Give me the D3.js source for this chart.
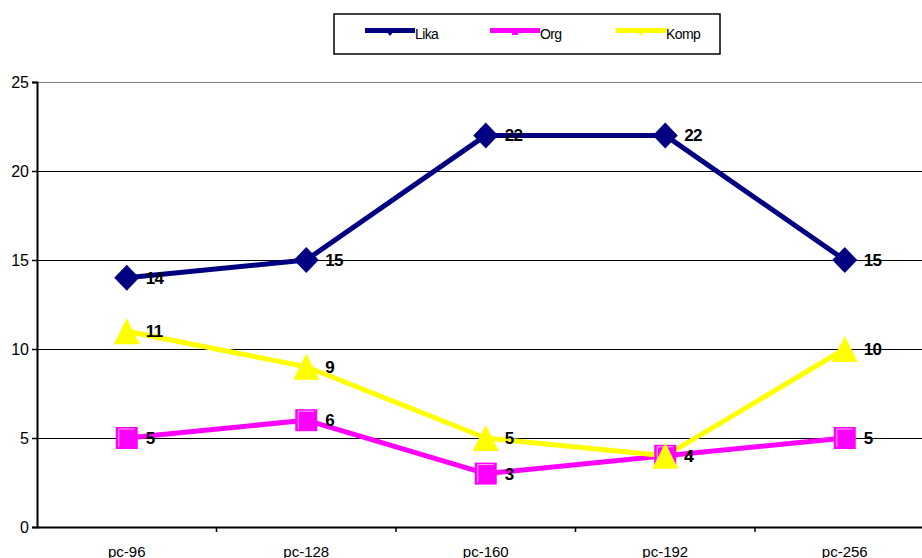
<!DOCTYPE html>
<html>
<head>
<meta charset="utf-8">
<script src="https://cdn.jsdelivr.net/npm/d3@7"></script>
<style>
  html, body { margin: 0; padding: 0; background: #fff; overflow: hidden; }
  svg { display: block; }
</style>
</head>
<body>
<svg id="chart" width="922" height="558"></svg>
<script>
// Categories and series values
const categories = ["pc-96", "pc-128", "pc-160", "pc-192", "pc-256"];
const lika = [14, 15, 22, 22, 15];
const org = [5, 6, 3, 4, 5];
const komp = [11, 9, 5, 4, 10];
const yTicks = [0, 5, 10, 15, 20, 25];

const series = [
  { name: "Lika", values: lika, color: "#000080", marker: "diamond" },
  { name: "Org", values: org, color: "#FF00FF", marker: "square" },
  { name: "Komp", values: komp, color: "#FFFF00", marker: "triangle" }
];

const FONT = "Arial, 'Liberation Sans', sans-serif";
const svg = d3.select("#chart");
const plotLeft = 37, plotTop = 82, plotBottom = 527;
const band = 179.5;
const plotRight = plotLeft + band * categories.length;

const x = d3.scaleBand().domain(categories).range([plotLeft, plotRight]).padding(0);
const y = d3.scaleLinear().domain([0, 25]).range([plotBottom, plotTop]);
const cx = d => x(d) + x.bandwidth() / 2;

// Horizontal gridlines
svg.append("g").selectAll("line").data(yTicks.filter(t => t > 0)).join("line")
  .attr("x1", plotLeft).attr("x2", plotRight)
  .attr("y1", d => y(d)).attr("y2", d => y(d))
  .attr("stroke", d => d === 25 ? "#808080" : "#000")
  .attr("stroke-width", 1)
  .attr("shape-rendering", "crispEdges");

// Y axis
const yAxis = svg.append("g").attr("transform", `translate(${plotLeft},0)`)
  .call(d3.axisLeft(y).tickValues(yTicks).tickSize(5).tickPadding(3).tickFormat(d3.format("d")));
yAxis.select(".domain").attr("stroke", "#000").attr("stroke-width", 2);
yAxis.selectAll(".tick line").attr("stroke", "#000").attr("stroke-width", 1.5);
yAxis.selectAll("text").attr("font-family", FONT)
  .attr("font-size", 16).attr("fill", "#000");

// X axis
const xAxis = svg.append("g").attr("transform", `translate(0,${plotBottom})`)
  .call(d3.axisBottom(x).tickSize(0).tickPadding(19));
xAxis.select(".domain").attr("stroke", "#000").attr("stroke-width", 2);
xAxis.selectAll("text").attr("font-family", FONT)
  .attr("font-size", 15).attr("fill", "#000");
// category separator ticks
svg.append("g").selectAll("line").data(d3.range(1, categories.length)).join("line")
  .attr("x1", i => plotLeft + i * band).attr("x2", i => plotLeft + i * band)
  .attr("y1", plotBottom).attr("y2", plotBottom + 5)
  .attr("stroke", "#000").attr("stroke-width", 1.5);

// Marker shapes
function marker(g, type, color) {
  if (type === "diamond") {
    g.append("path").attr("d", "M0,-13L12.5,0L0,13L-12.5,0Z").attr("fill", color);
  } else if (type === "square") {
    g.append("rect").attr("x", -11).attr("y", -11).attr("width", 22).attr("height", 22)
      .attr("fill", color);
    g.append("path").attr("d", "M-8,9V-9H8").attr("fill", "none")
      .attr("stroke", "#ffb0ff").attr("stroke-width", 1);
  } else {
    g.append("path").attr("d", "M0,-13L13,13L-13,13Z").attr("fill", color);
  }
}

const line = d3.line().x((d, i) => cx(categories[i])).y(d => y(d));

series.forEach(s => {
  svg.append("path").datum(s.values).attr("d", line)
    .attr("fill", "none").attr("stroke", s.color).attr("stroke-width", 5)
    .attr("stroke-linejoin", "round");
});
series.forEach(s => {
  s.values.forEach((v, i) => {
    const g = svg.append("g").attr("transform", `translate(${cx(categories[i])},${y(v)})`);
    marker(g, s.marker, s.color);
  });
});
// Data labels
series.forEach(s => {
  svg.append("g").selectAll("text").data(s.values).join("text")
    .attr("x", (d, i) => cx(categories[i]) + 19)
    .attr("y", d => y(d) + 6)
    .attr("font-family", FONT)
    .attr("font-size", 17).attr("font-weight", "bold").attr("fill", "#000")
    .attr("letter-spacing", -0.6)
    .text(d => d);
});

// Legend
const lg = svg.append("g");
lg.append("rect").attr("x", 334).attr("y", 14).attr("width", 386).attr("height", 40)
  .attr("fill", "#fff").attr("stroke", "#000").attr("stroke-width", 1.5);
const legendX = [365, 490, 616];
series.forEach((s, i) => {
  const lx = legendX[i];
  lg.append("line").attr("x1", lx).attr("x2", lx + 50).attr("y1", 30.5).attr("y2", 30.5)
    .attr("stroke", s.color).attr("stroke-width", 5);
  const m = lg.append("g").attr("transform", `translate(${lx + 25},31)`);
  if (s.marker === "diamond") m.append("path").attr("d", "M-4,0L0,5L4,0Z").attr("fill", s.color);
  else if (s.marker === "square") m.append("rect").attr("x", -3).attr("y", -3).attr("width", 6).attr("height", 7).attr("fill", s.color);
  else m.append("path").attr("d", "M-4,0L4,0L0,5Z").attr("fill", s.color);
  lg.append("text").attr("x", lx + 50).attr("y", 39)
    .attr("font-family", FONT).attr("letter-spacing", -0.6)
    .attr("font-size", 14).attr("fill", "#000").text(s.name);
});
</script>
</body>
</html>
